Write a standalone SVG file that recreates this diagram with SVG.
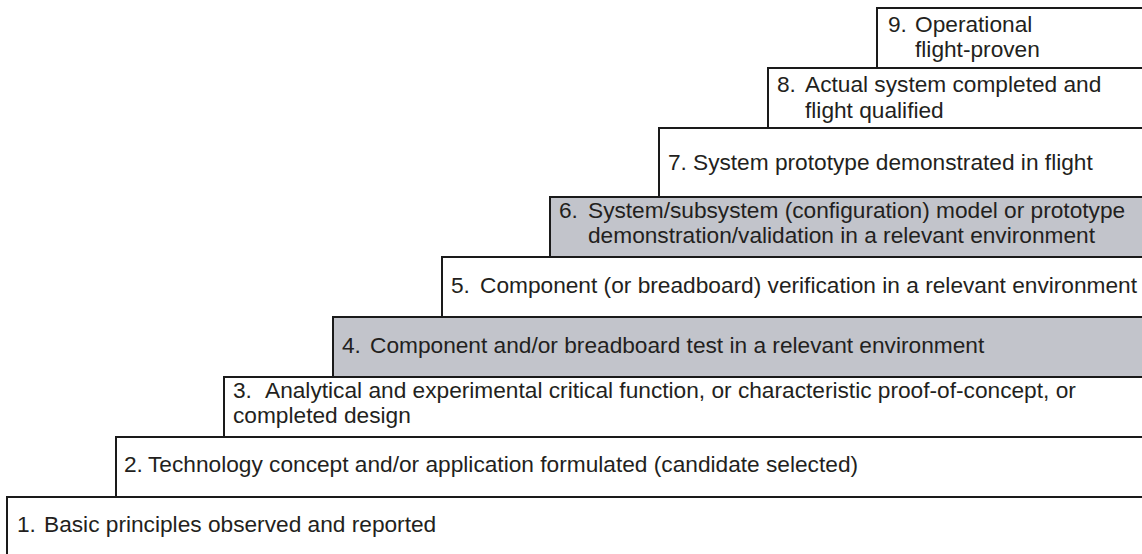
<svg xmlns="http://www.w3.org/2000/svg" width="1142" height="554" viewBox="0 0 1142 554">
<style>
.box{fill:#ffffff;stroke:#1a1a1a;stroke-width:2}
.gray{fill:#c2c4cb}
text{font-family:"Liberation Sans",Arial,sans-serif;font-size:22.7px;fill:#231f20}
</style>
<rect width="1142" height="554" fill="#ffffff"/>
<g id="level1"><rect class="box" x="7" y="497" width="1150" height="70"/><text y="532"><tspan x="17">1.</tspan><tspan x="44">Basic principles observed and reported</tspan></text></g>
<g id="level2"><rect class="box" x="116" y="437" width="1050" height="60"/><text y="472"><tspan x="124">2.</tspan><tspan x="148">Technology concept and/or application formulated (candidate selected)</tspan></text></g>
<g id="level3"><rect class="box" x="224" y="377" width="950" height="60"/><text y="398"><tspan x="233">3.</tspan><tspan x="265">Analytical and experimental critical function, or characteristic proof-of-concept, or</tspan></text><text x="233" y="423">completed design</text></g>
<g id="level4"><rect class="box gray" x="333" y="317" width="850" height="60"/><text y="353"><tspan x="342">4.</tspan><tspan x="370">Component and/or breadboard test in a relevant environment</tspan></text></g>
<g id="level5"><rect class="box" x="442" y="257" width="750" height="60"/><text y="293"><tspan x="451">5.</tspan><tspan x="480">Component (or breadboard) verification in a relevant environment</tspan></text></g>
<g id="level6"><rect class="box gray" x="550" y="197" width="650" height="60"/><text y="218"><tspan x="559">6.</tspan><tspan x="588">System/subsystem (configuration) model or prototype</tspan></text><text x="588" y="243">demonstration/validation in a relevant environment</text></g>
<g id="level7"><rect class="box" x="659" y="128" width="550" height="69"/><text y="170"><tspan x="668">7.</tspan><tspan x="693">System prototype demonstrated in flight</tspan></text></g>
<g id="level8"><rect class="box" x="768" y="68" width="450" height="60"/><text y="92"><tspan x="777">8.</tspan><tspan x="805">Actual system completed and</tspan></text><text x="805" y="118">flight qualified</text></g>
<g id="level9"><rect class="box" x="877" y="8" width="350" height="60"/><text y="32"><tspan x="888">9.</tspan><tspan x="915">Operational</tspan></text><text x="915" y="57">flight-proven</text></g>
<g id="connectors"/>
</svg>
